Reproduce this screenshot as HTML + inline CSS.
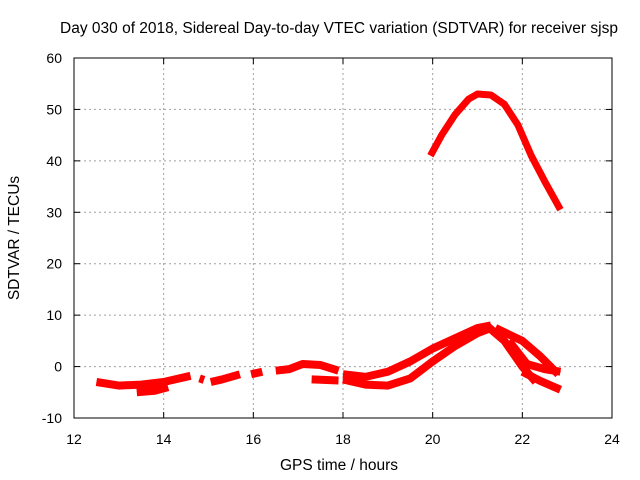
<!DOCTYPE html>
<html><head><meta charset="utf-8"><style>
body{margin:0;background:#fff;}
svg{display:block;font-family:"Liberation Sans",sans-serif;}
</style></head><body>
<svg id="chart" width="640" height="480" viewBox="0 0 640 480">
<rect width="640" height="480" fill="#fff"/>
<text x="339" y="33" font-size="15.5" text-anchor="middle">Day 030 of 2018, Sidereal Day-to-day VTEC variation (SDTVAR) for receiver sjsp</text>
<g id="grid"></g>
<g id="series"></g>
<rect x="74" y="58" width="538" height="360" fill="none" stroke="#000" stroke-width="1"/>
<g id="ticks"></g>
<text x="339" y="470" font-size="15.5" text-anchor="middle">GPS time / hours</text>
<text transform="translate(19,238) rotate(-90)" font-size="15.5" text-anchor="middle">SDTVAR / TECUs</text>
</svg>
<script>
const xTicks=[12,14,16,18,20,22,24];
const yTicks=[-10,0,10,20,30,40,50,60];
const arcTop=[[19.95,41],[20.2,45],[20.5,49],[20.8,52],[21.0,53],[21.3,52.8],[21.6,51],[21.9,47],[22.2,41],[22.5,36],[22.85,30.5]];
const segA=[[12.5,-3],[13,-3.7],[13.5,-3.5],[14,-3],[14.6,-1.8]];
const segA2=[[13.4,-5],[13.8,-4.7],[14.1,-4]];
const segB=[[14.8,-2.3],[14.9,-2.6]];
const segC=[[15.05,-3],[15.3,-2.5],[15.7,-1.5]];
const segD=[[15.95,-1.5],[16.2,-1]];
const segE=[[16.5,-0.8],[16.8,-0.5],[17.1,0.5],[17.5,0.3],[17.9,-0.8]];
const segE2=[[17.3,-2.5],[17.9,-2.7]];
const lowA=[[18.0,-2.5],[18.5,-3.5],[19,-3.7],[19.5,-2.3],[20,1],[20.5,4],[21,6.5],[21.3,7.5]];
const lowB=[[18.0,-1.5],[18.5,-2],[19,-1],[19.5,1],[20,3.5],[20.5,5.5],[21,7.5],[21.3,8]];
const descA=[[21.2,8],[21.6,5],[22,0],[22.3,-3]];
const descB=[[21.4,7.5],[22,5],[22.4,2],[22.8,-1.5]];
const descC=[[21.7,5],[22.1,0.5],[22.5,-0.5],[22.85,-1]];
const descD=[[22.0,-1],[22.4,-2.8],[22.85,-4.5]];
const seriesList=[arcTop,segA,segA2,segB,segC,segD,segE,segE2,lowA,lowB,descA,descB,descC,descD];
const X0=74,X1=612,Y0=418,Y1=58;
const sx=h=>X0+(h-12)/12*(X1-X0);
const sy=v=>Y0-(v+10)/70*(Y0-Y1);
const NS="http://www.w3.org/2000/svg";
const grid=document.getElementById('grid'),ticks=document.getElementById('ticks'),ser=document.getElementById('series');
function mk(tag,attrs,parent){const e=document.createElementNS(NS,tag);for(const k in attrs)e.setAttribute(k,attrs[k]);parent.appendChild(e);return e;}
xTicks.forEach(t=>{const x=sx(t);
 if(t>12&&t<24){const g=mk('line',{x1:x,x2:x,y1:Y1,y2:Y0,stroke:'#a0a0a0','stroke-dasharray':'2,3'},grid);
 
 }
 const tl=mk('text',{x:x,y:Y0+26,'font-size':14,'text-anchor':'middle'},ticks);tl.textContent=t;
 
 
 mk('line',{x1:x,x2:x,y1:Y0,y2:Y0-6,stroke:'#000'},ticks);mk('line',{x1:x,x2:x,y1:Y1,y2:Y1+6,stroke:'#000'},ticks);
});
yTicks.forEach(t=>{const y=sy(t);
 if(t>-10&&t<60){const g=mk('line',{x1:X0,x2:X1,y1:y,y2:y,stroke:'#a0a0a0','stroke-dasharray':'2,3'},grid);
 
 }
 const tl=mk('text',{x:X0-12,y:y+5,'font-size':14,'text-anchor':'end'},ticks);tl.textContent=t;
 
 
 mk('line',{x1:X0,x2:X0+6,y1:y,y2:y,stroke:'#000'},ticks);mk('line',{x1:X1,x2:X1-6,y1:y,y2:y,stroke:'#000'},ticks);
});
seriesList.forEach((s,i)=>{
 const p=mk('polyline',{points:s.map(d=>sx(d[0])+','+sy(d[1])).join(' '),fill:'none',stroke:'#ff0000','stroke-width':i===0?7:8,'stroke-linejoin':'round'},ser);
 
 
});
</script>
</body></html>
